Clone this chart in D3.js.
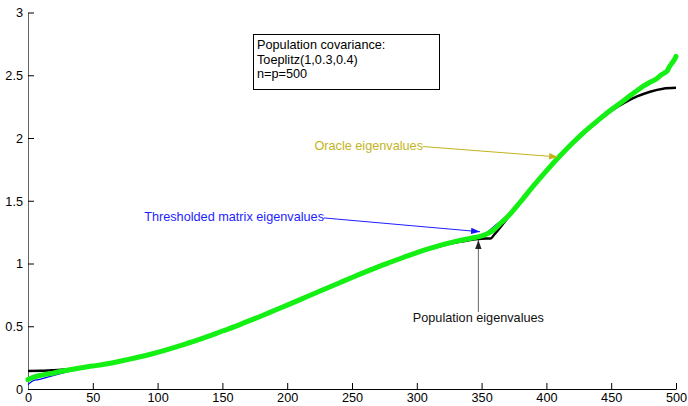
<!DOCTYPE html>
<html>
<head>
<meta charset="utf-8">
<script src="https://cdn.jsdelivr.net/npm/d3@7"></script>
<style>
  html, body { margin: 0; padding: 0; background: #fff; }
  svg { display: block; font-family: "Liberation Sans", Arial, Helvetica, sans-serif; }
</style>
</head>
<body>
<svg id="chart" width="688" height="406"></svg>
<script>
// Eigenvalue index (sorted ascending) and values for each spectrum
const popIndex = [0,10,20,30,40,50,60,70,80,90,100,110,120,130,140,150,160,170,180,190,200,
  210,220,230,240,250,260,270,280,290,300,310,320,330,340,350,357,360,370,380,390,400,
  410,420,430,440,450,460,470,480,490,500];
const popValues = [0.144,0.145,0.150,0.157,0.168,0.181,0.198,0.218,0.240,0.264,0.291,
  0.321,0.352,0.386,0.422,0.460,0.498,0.539,0.581,0.624,0.667,0.711,0.756,0.800,0.844,
  0.887,0.929,0.971,1.010,1.046,1.083,1.115,1.144,1.167,1.186,1.197,1.200,1.233,1.361,
  1.487,1.613,1.731,1.845,1.951,2.047,2.135,2.216,2.280,2.331,2.369,2.393,2.400];

const oracleIndex = [0,5,10,20,30,40,50,60,70,80,90,100,110,120,130,140,150,160,170,180,
  190,200,210,220,230,240,250,260,270,280,290,300,310,320,330,340,345,350,355,360,365,
  370,380,390,400,410,420,430,440,450,455,460,465,470,475,480,485,488,491,493,495,497,499,500];
const oracleValues = [0.075,0.097,0.110,0.128,0.150,0.168,0.183,0.199,0.219,0.242,0.265,
  0.292,0.322,0.354,0.387,0.423,0.462,0.499,0.541,0.582,0.625,0.668,0.712,0.757,0.801,
  0.845,0.889,0.931,0.973,1.012,1.050,1.087,1.120,1.150,1.176,1.197,1.207,1.220,1.240,
  1.275,1.325,1.372,1.492,1.618,1.738,1.852,1.958,2.055,2.142,2.225,2.262,2.300,2.340,
  2.378,2.415,2.445,2.472,2.498,2.518,2.532,2.570,2.598,2.630,2.650];

const threshIndex = [0,2,4,8,15,25,35,45,55,70,85,100,125,150,175,200,225,250,275,300,
  320,340,350,355,360,365,370,385,400,425,450,465,480,490,495,500];
const threshValues = [0.035,0.052,0.066,0.075,0.095,0.122,0.148,0.170,0.188,0.217,0.252,
  0.290,0.369,0.460,0.560,0.667,0.778,0.888,0.990,1.086,1.148,1.200,1.228,1.255,1.300,
  1.340,1.378,1.555,1.737,2.000,2.224,2.338,2.444,2.510,2.568,2.648];

const xTicks = [0,50,100,150,200,250,300,350,400,450,500];
const yTicks = [0,0.5,1,1.5,2,2.5,3];

const fontSize = 12.7;
const svg = d3.select("#chart");
const x = d3.scaleLinear().domain([0, 500]).range([28, 676]);
const y = d3.scaleLinear().domain([0, 3]).range([389, 12.5]);

// Axes with inward-pointing ticks
const xAxis = svg.append("g").attr("transform", `translate(0,${y(0)})`)
  .call(d3.axisBottom(x).tickValues(xTicks).tickFormat(d3.format("d"))
    .tickSizeInner(-6).tickSizeOuter(0).tickPadding(5));
const yAxis = svg.append("g").attr("transform", `translate(${x(0)},0)`)
  .call(d3.axisLeft(y).tickValues(yTicks).tickFormat(d => String(d))
    .tickSizeInner(-6).tickSizeOuter(0).tickPadding(5));
[xAxis, yAxis].forEach(g => {
  g.selectAll("text").attr("font-size", fontSize).attr("fill", "#000")
    .attr("font-family", "Liberation Sans, Arial, sans-serif");
  g.selectAll("line").attr("stroke", "#000");
});
xAxis.select(".domain").attr("stroke", "#000");
yAxis.select(".domain").attr("stroke", "#666");
xAxis.selectAll("text").attr("dy", "0.62em");
yAxis.selectAll("text").attr("dy", "0.35em");

// Spectra
const line = (xs, ys) => d3.line()
  .x((d, i) => x(xs[i])).y((d, i) => y(ys[i]))
  .curve(d3.curveMonotoneX)(ys);

svg.append("path").attr("d", line(popIndex, popValues))
  .attr("fill", "none").attr("stroke", "#000").attr("stroke-width", 2.5)
  .attr("stroke-linejoin", "round");
svg.append("path").attr("d", line(threshIndex, threshValues))
  .attr("fill", "none").attr("stroke", "#0000ff").attr("stroke-width", 1.2);
svg.append("path").attr("d", line(oracleIndex, oracleValues))
  .attr("fill", "none").attr("stroke", "#14f014").attr("stroke-width", 5)
  .attr("stroke-linejoin", "round").attr("stroke-linecap", "round");

// Arrowhead markers
const defs = svg.append("defs");
function marker(id, color) {
  defs.append("marker").attr("id", id)
    .attr("markerUnits", "userSpaceOnUse")
    .attr("viewBox", "0 -4 9 8").attr("refX", 9).attr("refY", 0)
    .attr("markerWidth", 9).attr("markerHeight", 8).attr("orient", "auto")
    .append("path").attr("d", "M0,-3.2L9,0L0,3.2Z").attr("fill", color);
}
marker("head-olive", "#c4b41c");
marker("head-blue", "#1414ff");
marker("head-black", "#222");

function annotate(text, color, tx, ty, anchor, fromX, fromY, toX, toY, headId, lineColor) {
  svg.append("line")
    .attr("x1", x(fromX)).attr("y1", y(fromY)).attr("x2", x(toX)).attr("y2", y(toY))
    .attr("stroke", lineColor || color).attr("stroke-width", 1)
    .attr("marker-end", `url(#${headId})`);
  svg.append("text").attr("x", x(tx)).attr("y", y(ty))
    .attr("text-anchor", anchor).attr("font-size", fontSize).attr("fill", color)
    .text(text);
}

annotate("Oracle eigenvalues", "#c4b41c", 304.8, 1.905, "end",
  304.8, 1.932, 409, 1.849, "head-olive");
annotate("Thresholded matrix eigenvalues", "#1e1eff", 228.4, 1.335, "end",
  228.4, 1.363, 348.8, 1.253, "head-blue");
annotate("Population eigenvalues", "#111", 347.5, 0.535, "middle",
  347.5, 0.614, 347.5, 1.187, "head-black", "#666");

// Info box
const boxLines = ["Population covariance:", "Toeplitz(1,0.3,0.4)", "n=p=500"];
const box = svg.append("g").attr("transform", "translate(253,34)");
box.append("rect").attr("x", 0.5).attr("y", 0.5).attr("width", 186).attr("height", 55)
  .attr("fill", "#fff").attr("stroke", "#000").attr("stroke-width", 1);
box.selectAll("text").data(boxLines).join("text")
  .attr("x", 4).attr("y", (d, i) => 15 + i * 14.6)
  .attr("font-size", fontSize).attr("fill", "#000").text(d => d);
</script>
</body>
</html>
